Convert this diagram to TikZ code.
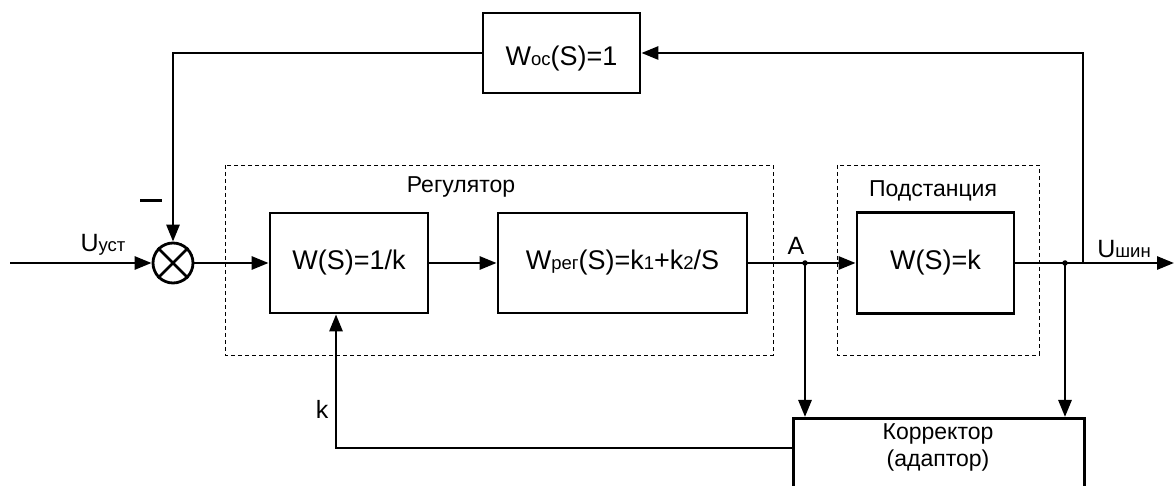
\documentclass[tikz,border=0pt]{standalone}
\usepackage{fontspec}
\setmainfont{Liberation Sans}
\usetikzlibrary{arrows.meta}
\newcommand{\sml}[1]{{\fontsize{18.5}{18.5}\selectfont #1}}
\begin{document}
\begin{tikzpicture}[x=1pt,y=-1pt,
  blk/.style={draw, line width=2.8pt, inner sep=0pt, font=\fontsize{27}{30}\selectfont},
  ln/.style={line width=2.8pt},
  arr/.style={ln, -{Triangle[length=17pt,width=13pt]}},
  grp/.style={draw, line width=0.9pt, dash pattern=on 4pt off 3pt},
  lbl/.style={inner sep=0pt, font=\fontsize{23}{27}\selectfont},
  tl/.style={inner sep=0pt, font=\fontsize{25}{28}\selectfont},
  dot/.style={circle, fill, inner sep=0pt, minimum size=5.5pt}]
\useasboundingbox (0,0) rectangle (1176,486);

% groups
\draw[grp] (225,165) rectangle (773,355);
\draw[grp] (837,165) rectangle (1039,355);
\node[lbl] (reglbl) at (461,187) {Регулятор};
\node[lbl] (podlbl) at (933,191) {Подстанция};

% blocks
\node[blk, minimum width=157pt, minimum height=80pt] (woc) at (561.5,53) {};
\node[inner sep=0pt, font=\fontsize{27}{30}\selectfont] (woct) at (561.5,59) {W\sml{ос}(S)=1};
\node[blk, minimum width=158pt, minimum height=100pt] (b1) at (349,263) {W(S)=1/k};
\node[blk, minimum width=249pt, minimum height=100pt] (b2) at (622.5,263) {W\sml{рег}(S)=k\sml{1}+k\sml{2}/S};
\node[blk, minimum width=157pt, minimum height=101pt] (b3) at (935.5,263) {W(S)=k};
\node[draw, line width=2.8pt, minimum width=291pt, minimum height=140pt, anchor=north west, inner sep=0pt] (kor) at (792,417) {};
\node[lbl, align=center] (kort) at (938,447) {Корректор\\(адаптор)};

% summing junction
\node[draw, circle, line width=2.8pt, minimum size=40pt, inner sep=0pt] (sum) at (173,263) {};
\draw[ln] (sum.north west) -- (sum.south east);
\draw[ln] (sum.north east) -- (sum.south west);

% coordinates
\coordinate (in) at (10,263);
\coordinate (out) at (1174,263);
\node[dot] (A) at (805,263) {};
\node[dot] (br1) at (1065,263) {};
\coordinate (br2) at (1083,263);
\coordinate (korin) at (792,448);
\coordinate (kup) at (336,448);

% connectors
\draw[arr] (in) -- (sum.west);
\draw[arr] (sum.east) -- (b1.west);
\draw[arr] (b1.east) -- (b2.west);
\draw[ln] (b2.east) -- (A.center);
\draw[arr] (A.center) -- (b3.west);
\draw[arr] (b3.east) -- (out);
\draw[arr] (br2) |- (woc.east);
\draw[arr] (woc.west) -| (sum.north);
\draw[arr] (A.center) -- (A |- kor.north);
\draw[arr] (br1.center) -- (br1 |- kor.north);
\draw[arr] (korin) -- (kup) -- (kup |- b1.south);

% labels
\node[tl] (uust) at (103,245) {U\sml{уст}};
\node[tl] (ushin) at (1124,249) {U\sml{шин}};
\node[tl] (alb) at (796,246) {A};
\node[tl] (klb) at (322,409) {k};
\node[inner sep=0pt] (minus) at (151,201) {\rule{22pt}{3pt}};
\end{tikzpicture}
\end{document}
